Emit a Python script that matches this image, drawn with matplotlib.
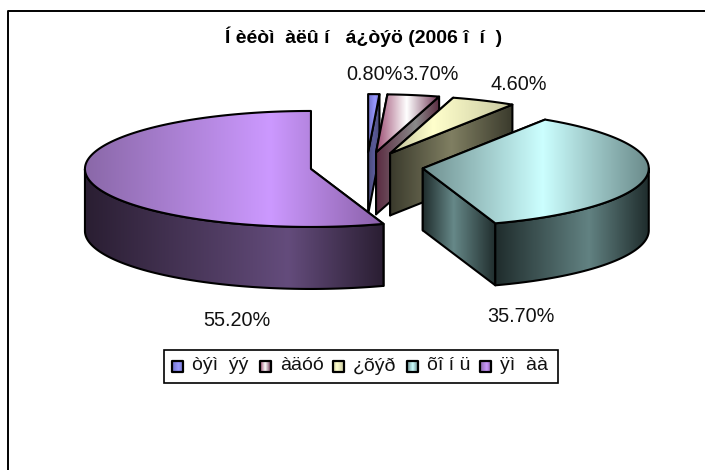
import numpy as np
import matplotlib
matplotlib.use("Agg")
import matplotlib.pyplot as plt
from matplotlib.patches import Polygon, Rectangle

plt.rcParams['font.family'] = ['Liberation Sans', 'DejaVu Sans']

title = "Í èéòì  àëû í   á¿òýö (2006 î  í  )"
categories = ["òýì  ýý", "àäóó", "¿õýð", "õî í ü", "ÿì  àà"]
values = [0.8, 3.7, 4.6, 35.7, 55.2]
value_labels = ["0.80%", "3.70%", "4.60%", "35.70%", "55.20%"]

# (left tone, peak tone, right tone, peak position) for the top faces
top_shades = [("#7070c8", "#9999ff", "#7878d0", 0.6),
              ("#9a4a70", "#ffffff", "#6a3050", 0.48),
              ("#c0c09a", "#ffffcc", "#c8c8a0", 0.35),
              ("#6f8f8f", "#ccffff", "#6a8a8a", 0.53),
              ("#8a68a8", "#cc99ff", "#8a60a8", 0.62)]
wall_shades = [("#4a4a78", "#5a5a98", "#4a4a78", 0.5),
               ("#5a2a40", "#8a8a8a", "#5a2a40", 0.62),
               ("#3a3a2c", "#807f62", "#3a3a2c", 0.5),
               ("#1f2c2c", "#668888", "#1f2c2c", 0.42),
               ("#2a1e32", "#644c7c", "#2a1e32", 0.68)]
outer_shades = [wall_shades[0], wall_shades[1], wall_shades[2],
                ("#1f2c2c", "#628282", "#1f2c2c", 0.61), wall_shades[4]]

W, H = 705, 470
fig = plt.figure(figsize=(W / 100, H / 100), dpi=100)
ax = fig.add_axes([0, 0, 1, 1])
ax.set_xlim(0, W)
ax.set_ylim(H, 0)
ax.axis("off")

ax.plot([8, 8, 705], [470, 10.5, 10.5], color="black", lw=1.4, zorder=1)

RX, RY, DEPTH, EXPLODE = 226, 58, 62, 0.25
CX, CY = 366.7, 166.6


def ramp(shade, n=256):
    a, b, c, p = shade
    a, b, c = [np.array(matplotlib.colors.to_rgb(k)) for k in (a, b, c)]
    t = np.linspace(0, 1, n)
    out = np.zeros((1, n, 3))
    for i, v in enumerate(t):
        if v < p:
            out[0, i] = a + (b - a) * (v / p)
        else:
            out[0, i] = c + (b - c) * ((1 - v) / (1 - p))
    return out


def face(pts, shade, z, lw=1.5):
    pts = np.asarray(pts)
    x0, x1 = pts[:, 0].min(), pts[:, 0].max()
    y0, y1 = pts[:, 1].min(), pts[:, 1].max()
    if x1 - x0 < 0.5:
        return
    im = ax.imshow(ramp(shade), extent=(x0, x1, y1, y0), aspect="auto",
                   zorder=z, interpolation="bilinear")
    clip = Polygon(pts, closed=True, transform=ax.transData)
    im.set_clip_path(clip)
    ax.add_patch(Polygon(pts, closed=True, fill=False, ec="black", lw=lw,
                         joinstyle="round", zorder=z + 0.1))


def pt(cx, cy, deg):
    r = np.radians(deg)
    return np.column_stack([cx + RX * np.sin(r), cy - RY * np.cos(r)])


fractions = np.array(values) / sum(values)
edges = np.concatenate([[0], np.cumsum(fractions) * 360])
z = 2
for i in range(len(values)):
    a0, a1 = edges[i], edges[i + 1]
    mid = np.radians((a0 + a1) / 2)
    cx = CX + RX * EXPLODE * np.sin(mid)
    cy = CY - RY * EXPLODE * np.cos(mid)
    apex = np.array([[cx, cy]])
    drop = np.array([0, DEPTH])
    for ang in (a0, a1):
        e = pt(cx, cy, ang)
        face(np.vstack([apex, e, e + drop, apex + drop]), wall_shades[i], z)
        z += 1
    lo, hi = max(a0, 90), min(a1, 270)
    if hi > lo:
        arc = pt(cx, cy, np.linspace(lo, hi, 120))
        face(np.vstack([arc, (arc + drop)[::-1]]), outer_shades[i], z)
        z += 1
    arc = pt(cx, cy, np.linspace(a0, a1, 240))
    face(np.vstack([apex, arc]), top_shades[i], z)
    z += 1

ax.text(363.5, 37, title, ha="center", va="center", fontsize=14, fontweight="bold", zorder=50)

label_pos = [(374.5, 75), (430, 75), (518.5, 84), (520.5, 317), (237, 320)]
for (x, y), s in zip(label_pos, value_labels):
    ax.text(x, y, s, ha="center", va="center", fontsize=14.3, color="#111111", zorder=50)

ax.add_patch(Rectangle((164, 349.5), 393.5, 33.5, fc="white", ec="black", lw=1.2, zorder=50))
sw_x = [172, 260, 333, 407, 480]
z = 51
for x, s, shade in zip(sw_x, categories, top_shades):
    face([(x, 361), (x + 11, 361), (x + 11, 372), (x, 372)], shade, z, lw=1.6)
    ax.text(x + 20, 366, s, ha="left", va="center", fontsize=14, color="#111111", zorder=60)
    z += 1

ax.set_xlim(0, W)
ax.set_ylim(H, 0)
fig.savefig("out.png", dpi=100)
